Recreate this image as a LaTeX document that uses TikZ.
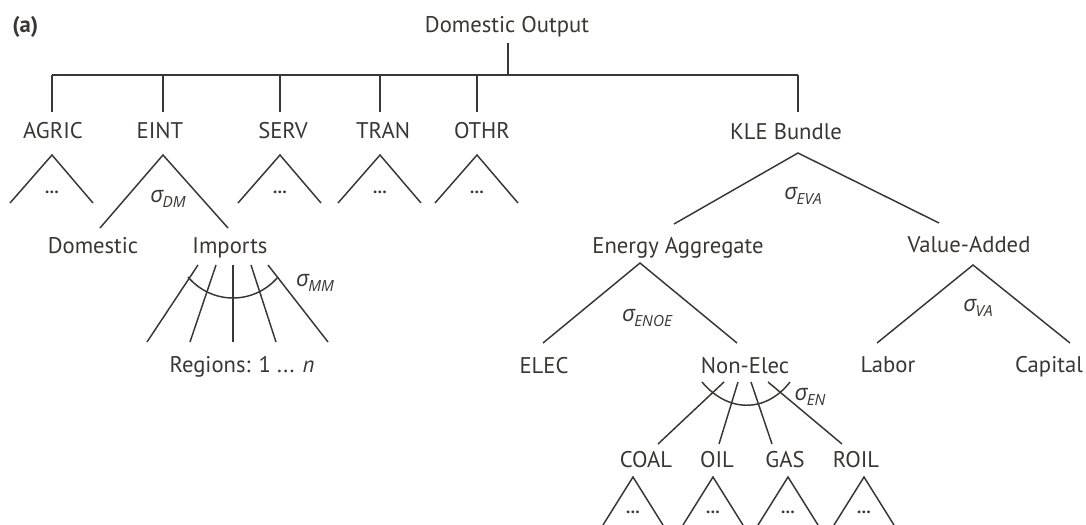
\documentclass[tikz,border=0pt]{standalone}
\usepackage{fontspec}
\setmainfont{PT Sans}
\newfontfamily\sigfont{Open Sans}
\definecolor{ink}{HTML}{3A3634}
\newcommand{\sg}[1]{{\sigfont\itshape σ\kern-0.04em\raisebox{-0.35ex}{\fontsize{11.5}{11.5}\selectfont #1}}}
\begin{document}
\begin{tikzpicture}[x=0.75pt,y=-0.75pt,
  every node/.style={inner sep=0pt,text=ink},
  lbl/.style={font=\fontsize{17}{17}\selectfont,anchor=base},
  sig/.style={font=\fontsize{17}{17}\selectfont,anchor=center},
  dots/.style={font=\fontsize{13}{13}\selectfont\bfseries,anchor=center},
  ln/.style={draw=ink,line width=1.1pt,line cap=butt}]
\useasboundingbox[fill=white] (0,0) rectangle (1086,525);

% ---------- text nodes ----------
\node[lbl,anchor=base west,font=\fontsize{17}{17}\selectfont\bfseries] (lab) at (12,32) {(a)};
\node[lbl] (domout) at (507,32) {Domestic Output};

\node[lbl] (agric) at (53,138) {AGRIC};
\node[lbl] (eint)  at (160,138) {EINT};
\node[lbl] (serv)  at (283,138) {SERV};
\node[lbl] (tran)  at (383,138) {TRAN};
\node[lbl] (othr)  at (482,138) {OTHR};
\node[lbl] (kle)   at (786,139) {KLE Bundle};

\node[lbl] (domestic) at (93,253) {Domestic};
\node[lbl] (imports)  at (230,253) {Imports};
\node[lbl] (enagg)    at (678,253) {Energy Aggregate};
\node[lbl] (valadd)   at (969,252) {Value-Added};

\node[lbl] (regions) at (242,372) {Regions: 1 ... \textit{n}};
\node[lbl] (elec)    at (544,373) {ELEC};
\node[lbl] (nonelec) at (745,373) {Non-Elec};
\node[lbl] (labor)   at (888,372) {Labor};
\node[lbl] (capital) at (1049,372) {Capital};

\node[lbl] (coal) at (646,467) {COAL};
\node[lbl] (oil)  at (717,467) {OIL};
\node[lbl] (gas)  at (785,467) {GAS};
\node[lbl] (roil) at (856,467) {ROIL};

% sigma labels
\node[sig] (sDM)   at (168,199) {\sg{DM}};
\node[sig] (sMM)   at (315,283) {\sg{MM}};
\node[sig] (sEVA)  at (803,196) {\sg{EVA}};
\node[sig] (sENOE) at (647,318) {\sg{ENOE}};
\node[sig] (sVA)   at (978,308) {\sg{VA}};
\node[sig] (sEN)   at (810,397) {\sg{EN}};

% ---------- top bar ----------
\coordinate (stemT) at (508,43);
\coordinate (stemB) at (508,75);
\coordinate (barL) at (52,75);
\coordinate (barR) at (798,75);
\draw[ln] (stemT) -- (stemB);
\draw[ln] (barL) -- (barR);
\foreach \n/\x in {agric/52,eint/163,serv/280,tran/380,othr/477,kle/798}{
  \coordinate (\n Up) at (\x,75);
  \coordinate (\n Dn) at (\x,112);
  \draw[ln] (\n Up) -- (\n Dn);
}

% ---------- small triangles with dots ----------
\foreach \n/\x in {agric/52,serv/280,tran/380,othr/477}{
  \coordinate (\n A) at (\x,155);
  \coordinate (\n L) at (\x-42,203);
  \coordinate (\n R) at (\x+41,203);
  \draw[ln] (\n L) -- (\n A) -- (\n R);
  \node[dots] (\n dots) at (\x,192) {…};
}

% ---------- EINT ----------
\coordinate (eintA) at (163,155);
\coordinate (eintL) at (100,228);
\coordinate (eintR) at (228,228);
\draw[ln] (eintL) -- (eintA) -- (eintR);

% ---------- Imports fan ----------
\foreach \i/\xt/\xb in {1/198/147,2/216/190,3/233/233,4/251/276,5/268/328}{
  \coordinate (imT\i) at (\xt,265);
  \coordinate (imB\i) at (\xb,342);
  \draw[ln] (imT\i) -- (imB\i);
}
\coordinate (imArcL) at (188,277);
\coordinate (imArcR) at (278,277);
\draw[ln] (imArcL) .. controls (212,305) and (254,305) .. (imArcR);

% ---------- KLE ----------
\coordinate (kleA) at (798,153);
\coordinate (kleL) at (674,224);
\coordinate (kleR) at (939,223);
\draw[ln] (kleL) -- (kleA) -- (kleR);

% ---------- Energy Aggregate ----------
\coordinate (eaA) at (640,263);
\coordinate (eaL) at (543,343);
\coordinate (eaR) at (737,343);
\draw[ln] (eaL) -- (eaA) -- (eaR);

% ---------- Value-Added ----------
\coordinate (vaA) at (973,265);
\coordinate (vaL) at (877,343);
\coordinate (vaR) at (1070,343);
\draw[ln] (vaL) -- (vaA) -- (vaR);

% ---------- Non-Elec fan ----------
\foreach \n/\xt/\xb in {coal/724/658,oil/738/719,gas/751/772,roil/768/842}{
  \coordinate (\n T) at (\xt,382);
  \coordinate (\n B) at (\xb,444);
  \draw[ln] (\n T) -- (\n B);
}
\coordinate (neArcL) at (702,382);
\coordinate (neArcR) at (790,382);
\draw[ln] (neArcL) .. controls (728,413) and (766,413) .. (neArcR);

% ---------- bottom triangles ----------
\foreach \n/\x in {coal/633,oil/713,gas/788,roil/864}{
  \coordinate (\n A) at (\x,477);
  \coordinate (\n L) at (\x-30,525);
  \coordinate (\n R) at (\x+30,525);
  \draw[ln] (\n L) -- (\n A) -- (\n R);
  \node[dots] (\n dots) at (\x,512) {…};
}
\end{tikzpicture}
\end{document}
